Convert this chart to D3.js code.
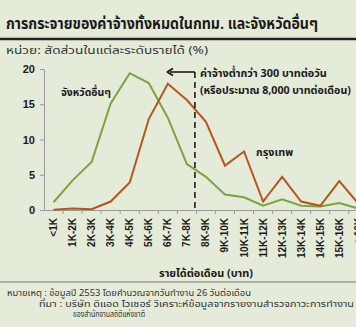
<!DOCTYPE html>
<html>
<head>
<meta charset="utf-8">
<script src="https://cdn.jsdelivr.net/npm/d3@7"></script>
<style>
  html, body { margin: 0; padding: 0; background: #e5ebd9; }
  svg { display: block; }
  text { font-family: "Noto Sans Thai", "Noto Sans", sans-serif; fill: #1a1a1a; }
</style>
</head>
<body>
<svg id="chart" width="356" height="327"></svg>
<script>
// Monthly income brackets (baht)
const categories = ["<1K","1K-2K","2K-3K","3K-4K","4K-5K","5K-6K","6K-7K","7K-8K",
  "8K-9K","9K-10K","10K-11K","11K-12K","12K-13K","13K-14K","14K-15K","15K-16K",">16K"];
// Share of workers in each bracket (%)
const bangkok = [0.05, 0.2, 0.1, 1.2, 3.9, 12.9, 17.9, 15.6, 12.5, 6.3, 8.3, 1.2, 4.7, 1.2, 0.6, 4.1, 0.9];
const provinces = [1.1, 4.2, 6.8, 15.1, 19.4, 18.0, 13.1, 6.5, 4.7, 2.2, 1.8, 0.6, 1.5, 0.6, 0.5, 1.0, 0.2];
const yTicks = [0, 5, 10, 15, 20];

const svg = d3.select("#chart");
const left = 44, step = 19.05;
const x = d3.scaleBand().domain(categories)
  .range([left, left + step * categories.length]).padding(0);
const y = d3.scaleLinear().domain([0, 20]).range([210, 69]);
const cx = d => x(d) + x.bandwidth() / 2;

// Text helper with a fixed drawn width
function label(g, px, py, str, size, bold, width, color) {
  const t = g.append("text").attr("x", px).attr("y", py)
    .style("font-size", size + "px")
    .style("font-weight", bold ? "bold" : "normal")
    .text(str);
  if (color) t.style("fill", color);
  if (width) t.attr("textLength", width).attr("lengthAdjust", "spacingAndGlyphs");
  return t;
}

// Title, rule and unit note
label(svg, 6, 29, "การกระจายของค่าจ้างทั้งหมดในกทม. และจังหวัดอื่นๆ", 15, true, 312);
svg.append("line").attr("x1", 0).attr("x2", 356).attr("y1", 39).attr("y2", 39)
  .attr("stroke", "#222").attr("stroke-width", 2.5);
label(svg, 6, 54, "หน่วย: สัดส่วนในแต่ละระดับรายได้ (%)", 11, false, 202, "#333");

// Axes
const yAxis = svg.append("g").attr("transform", `translate(${left},0)`)
  .call(d3.axisLeft(y).tickValues(yTicks).tickSize(4).tickSizeOuter(0));
yAxis.select(".domain").attr("stroke", "#999");
yAxis.selectAll(".tick line").attr("stroke", "#999");
yAxis.selectAll(".tick text").attr("x", -9)
  .style("font-size", "11px").style("font-weight", "bold").style("font-family", "Arial, 'Liberation Sans', sans-serif");

const xAxis = svg.append("g").attr("transform", `translate(0,${y(0)})`)
  .call(d3.axisBottom(x).tickSize(0).tickSizeOuter(0));
xAxis.select(".domain").attr("stroke", "#999");
xAxis.selectAll(".tick text")
  .attr("transform", "rotate(-90)")
  .attr("x", -8).attr("y", 0).attr("dy", "0.35em")
  .attr("text-anchor", "end")
  .style("font-size", "10px").style("font-weight", "bold").style("font-family", "Arial, 'Liberation Sans', sans-serif");
// Separator ticks between brackets
xAxis.selectAll(".sep").data(categories).enter().append("line")
  .attr("x1", d => x(d) + x.bandwidth()).attr("x2", d => x(d) + x.bandwidth())
  .attr("y1", 0).attr("y2", 4).attr("stroke", "#999");

// Series lines
const line = d3.line().x((d, i) => cx(categories[i])).y(d => y(d));
svg.append("path").datum(provinces).attr("d", line)
  .attr("fill", "none").attr("stroke", "#7ba440").attr("stroke-width", 2);
svg.append("path").datum(bangkok).attr("d", line)
  .attr("fill", "none").attr("stroke", "#b5561b").attr("stroke-width", 2);

// Series labels
label(svg, 61, 96, "จังหวัดอื่นๆ", 11, true, 50);
label(svg, 256, 156, "กรุงเทพ", 11, true, 37);

// Minimum-wage marker at 8,000 baht/month
const mx = x("8K-9K") - 1.5;
svg.append("line").attr("x1", mx).attr("x2", mx).attr("y1", 72).attr("y2", y(0))
  .attr("stroke", "#111").attr("stroke-width", 1.5).attr("stroke-dasharray", "6,4");
svg.append("line").attr("x1", 170).attr("x2", mx).attr("y1", 72).attr("y2", 72)
  .attr("stroke", "#111").attr("stroke-width", 1.5);
svg.append("path").attr("d", "M167,72 L173,68.5 M167,72 L173,75.5")
  .attr("stroke", "#111").attr("stroke-width", 1.5).attr("fill", "none");
label(svg, mx + 5, 77, "ค่าจ้างต่ำกว่า 300 บาทต่อวัน", 11, true, 127);
label(svg, mx + 5, 94, "(หรือประมาณ 8,000 บาทต่อเดือน)", 11, true, 151);

// X axis title
label(svg, 159, 277, "รายได้ต่อเดือน (บาท)", 11, true, 94);

// Footer
svg.append("line").attr("x1", 0).attr("x2", 356).attr("y1", 282).attr("y2", 282)
  .attr("stroke", "#777").attr("stroke-width", 1);
const foot = svg.append("g");
label(foot, 7, 296, "หมายเหตุ : ข้อมูลปี 2553 โดยคำนวณจากวันทำงาน 26 วันต่อเดือน", 9, false, 244, "#333");
label(foot, 39, 306.5, "ที่มา : บริษัท ดิแอด ไวเซอร์ วิเคราะห์ข้อมูลจากรายงานสำรวจภาวะการทำงาน", 9, false, 315, "#333");
label(foot, 73, 317, "ของสำนักงานสถิติแห่งชาติ", 9, false, 72, "#333");
</script>
</body>
</html>
